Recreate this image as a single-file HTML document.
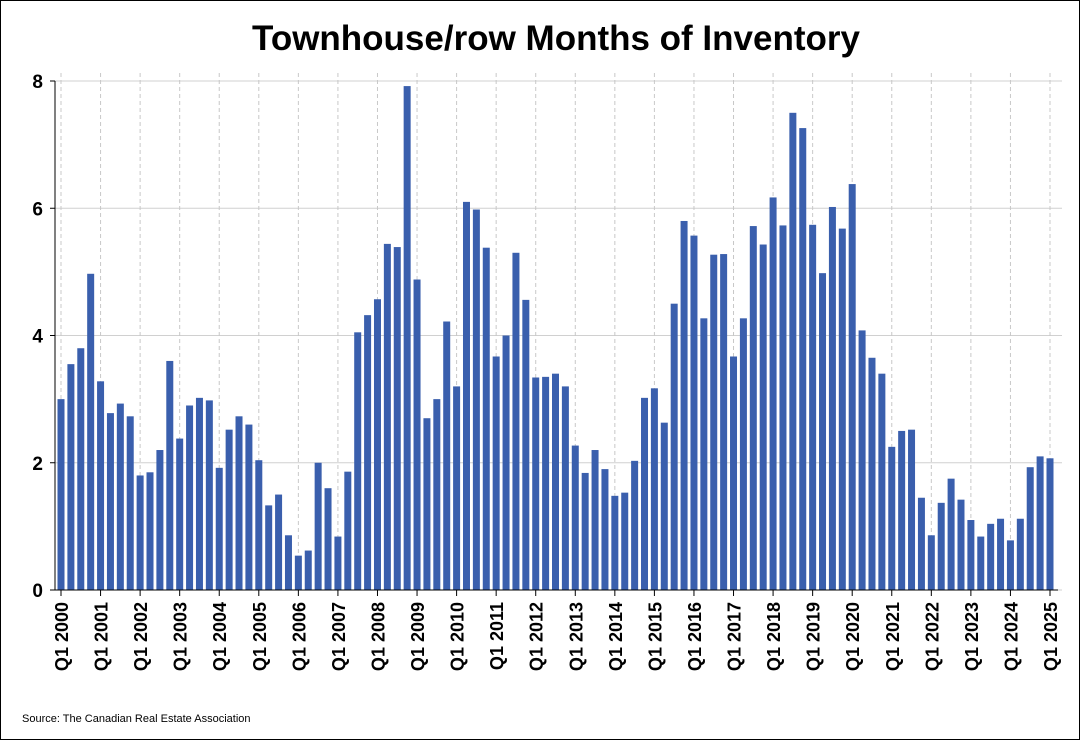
<!DOCTYPE html>
<html><head><meta charset="utf-8"><style>
body{margin:0;background:#fff}
svg{display:block;font-family:"Liberation Sans",Arial,sans-serif}
</style></head><body>
<svg id="chart" width="1080" height="740">
<rect x="0.5" y="0.5" width="1079" height="739" fill="#fff" stroke="#000"/>
<text x="556" y="50" text-anchor="middle" font-size="35" font-weight="bold">Townhouse/row Months of Inventory</text>
<text x="22" y="722" font-size="11">Source: The Canadian Real Estate Association</text>
<g id="grid"></g><g id="bars"></g><g id="axes"></g>
</svg>
<script>
const years = [2000,2001,2002,2003,2004,2005,2006,2007,2008,2009,2010,2011,2012,2013,2014,2015,2016,2017,2018,2019,2020,2021,2022,2023,2024,2025];
const values = [3.0,3.55,3.8,4.97, 3.28,2.78,2.93,2.73, 1.8,1.85,2.2,3.6, 2.38,2.9,3.02,2.98,
1.92,2.52,2.73,2.6, 2.04,1.33,1.5,0.86, 0.54,0.62,2.0,1.6, 0.84,1.86,4.05,4.32,
4.57,5.44,5.39,7.92, 4.88,2.7,3.0,4.22, 3.2,6.1,5.98,5.38, 3.67,4.0,5.3,4.56,
3.34,3.35,3.4,3.2, 2.27,1.84,2.2,1.9, 1.48,1.53,2.03,3.02, 3.17,2.63,4.5,5.8,
5.57,4.27,5.27,5.28, 3.67,4.27,5.72,5.43, 6.17,5.73,7.5,7.26, 5.74,4.98,6.02,5.68,
6.38,4.08,3.65,3.4, 2.25,2.5,2.52,1.45, 0.86,1.37,1.75,1.42, 1.1,0.84,1.04,1.12,
0.78,1.12,1.93,2.1, 2.07];
const yTicks = [0,2,4,6,8];
const NS="http://www.w3.org/2000/svg";
const x0=61, x1=1050, yBase=590, yTop=81, yMax=8;
const n=values.length;
const xs=i=>x0+(x1-x0)*i/(n-1);
const ys=v=>yBase-(yBase-yTop)*v/yMax;
function mk(tag,attrs,parent){const e=document.createElementNS(NS,tag);for(const k in attrs)e.setAttribute(k,attrs[k]);parent.appendChild(e);return e;}
const grid=document.getElementById('grid'),bars=document.getElementById('bars'),axes=document.getElementById('axes');
yTicks.forEach(t=>{
  const l=mk('line',{x1:55,x2:1062,y1:ys(t),y2:ys(t),stroke:'#d0d0d0','stroke-width':1},grid);
  
  
  const tx=mk('text',{x:43,y:ys(t)+7,'text-anchor':'end','font-size':19,'font-weight':'bold'},axes);
  tx.textContent=t;
  
  
  const tk=mk('line',{x1:50,x2:55,y1:ys(t),y2:ys(t),stroke:'#000'},axes);
  
  
});
years.forEach((yr,j)=>{
  const x=xs(j*4);
  const g=mk('line',{x1:x,x2:x,y1:yTop-8,y2:yBase,stroke:'#c8c8c8','stroke-dasharray':'4,3'},grid);
  
  
  const tk=mk('line',{x1:x,x2:x,y1:yBase,y2:yBase+6,stroke:'#000'},axes);
  
  
  const tx=mk('text',{x:0,y:0,'text-anchor':'end','font-size':18,'font-weight':'bold',transform:`translate(${x+7},${yBase+12}) rotate(-90)`},axes);
  tx.textContent='Q1 '+yr;
  
  
});
values.forEach((v,i)=>{
  const b=mk('rect',{x:xs(i)-3.5,y:ys(v),width:7,height:yBase-ys(v),fill:'#3a5fad'},bars);
  
  
});
const ax=mk('line',{x1:55,x2:55,y1:yTop,y2:yBase,stroke:'#000','stroke-width':1},axes);


const bx=mk('line',{x1:55,x2:1058,y1:yBase,y2:yBase,stroke:'#000','stroke-width':1},axes);


</script>
</body></html>
